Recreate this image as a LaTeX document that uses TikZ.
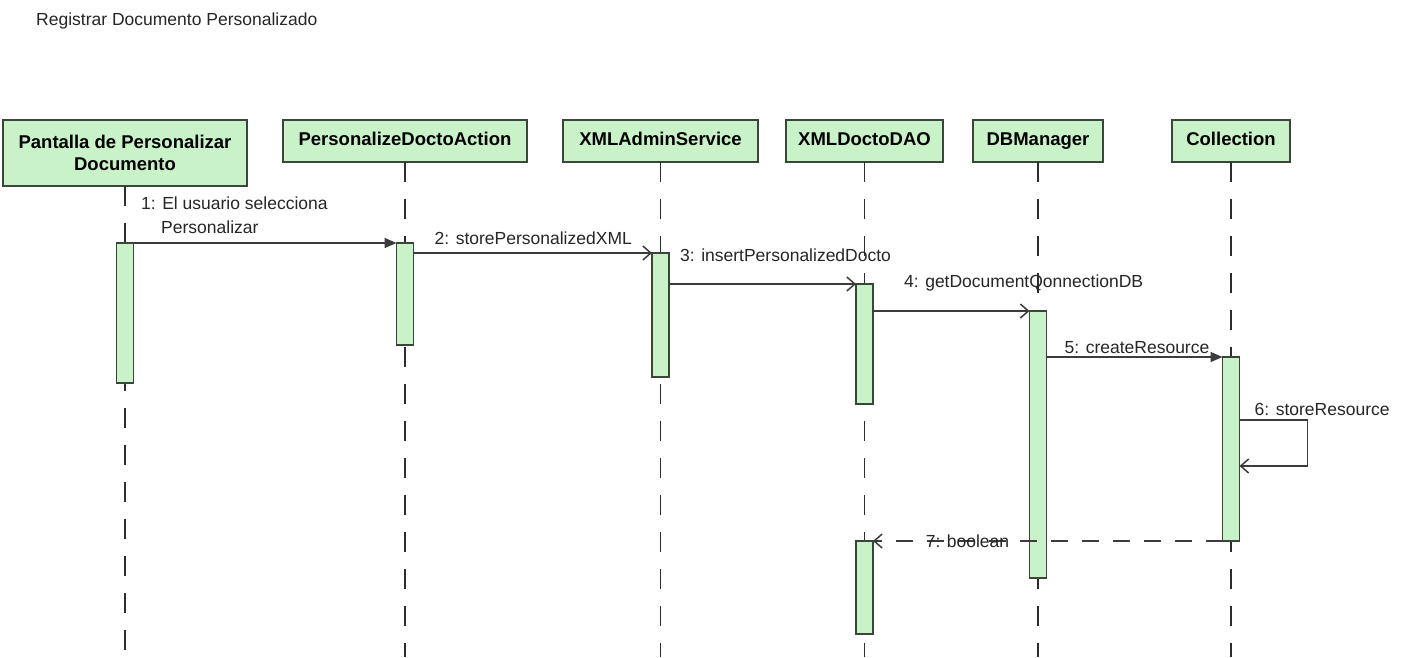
\documentclass[tikz,border=0pt]{standalone}
\usepackage{fontspec}
\setmainfont{Liberation Sans}
\usetikzlibrary{arrows.meta}
\definecolor{objfill}{RGB}{202,242,200}
\definecolor{objline}{RGB}{58,70,58}
\definecolor{msgline}{RGB}{60,60,60}
\definecolor{lifegray}{RGB}{45,45,45}
\begin{document}
\begin{tikzpicture}[x=1pt,y=-1pt,
  objbox/.style={draw=objline,line width=1.8pt,fill=objfill,inner sep=0pt,outer sep=0pt,
    minimum height=42pt,align=center,font=\fontsize{18.5}{22}\selectfont\bfseries},
  oneline/.style={text height=13.5pt,text depth=4pt},
  actbox/.style={draw=objline,line width=1.6pt,fill=objfill,minimum width=17pt,inner sep=0pt,outer sep=0pt},
  lifeline/.style={draw=lifegray,line width=1.8pt,dash pattern=on 20pt off 17pt},
  lbl/.style={font=\fontsize{17.5}{24}\selectfont,text=black!85,inner sep=0pt},
  syncmsg/.style={draw=msgline,line width=1.5pt,-{Triangle[length=12pt,width=10pt]}},
  callmsg/.style={draw=msgline,line width=1.5pt,-{Straight Barb[length=8pt,width=14pt]}},
  retmsg/.style={draw=msgline,line width=1.5pt,dash pattern=on 17pt off 14pt,-{Straight Barb[length=8pt,width=14pt]}}
]
\fill[white] (0,0) rectangle (1403,657);
\useasboundingbox (0,0) rectangle (1403,657);

% title
\node[lbl,anchor=base west] (title) at (36,25) {Registrar Documento Personalizado};

% participants
\node[objbox,minimum width=244pt,minimum height=66pt] (p1) at (125,153) {Pantalla de Personalizar\\Documento};
\node[objbox,oneline,minimum width=244pt] (p2) at (405,141) {PersonalizeDoctoAction};
\node[objbox,oneline,minimum width=195pt] (p3) at (660.5,141) {XMLAdminService};
\node[objbox,oneline,minimum width=157pt] (p4) at (864.5,141) {XMLDoctoDAO};
\node[objbox,oneline,minimum width=130pt] (p5) at (1038,141) {DBManager};
\node[objbox,oneline,minimum width=118pt] (p6) at (1231,141) {Collection};

% lifelines
\foreach \p in {p1,p2,p3,p4,p5,p6}
  \draw[lifeline] (\p.south) -- (\p.south |- 0,657);

% activations
\node[actbox,minimum height=140pt] (a1) at (p1.center |- 0,313) {};
\node[actbox,minimum height=102pt] (a2) at (p2.center |- 0,294) {};
\node[actbox,minimum height=124pt] (a3) at (p3.center |- 0,315) {};
\node[actbox,minimum height=120pt] (a4) at (p4.center |- 0,344) {};
\node[actbox,minimum height=267pt] (a5) at (p5.center |- 0,444.5) {};
\node[actbox,minimum height=184pt] (a6) at (p6.center |- 0,449) {};
\node[actbox,minimum height=93pt] (a7) at (p4.center |- 0,587.5) {};

% messages
\draw[syncmsg] (a1.north east) -- (a2.north west);
\node[lbl,anchor=north west,align=left] (m1) at (141,196.5)
  {1: El usuario selecciona\\\hspace*{20pt}Personalizar};

\draw[callmsg] (a3.north west -| a2.east) -- (a3.north west);
\node[lbl,anchor=base west] (m2) at ([xshift=21pt,yshift=9pt]a3.north west -| a2.east) {2: storePersonalizedXML};

\draw[callmsg] (a4.north west -| a3.east) -- (a4.north west);
\node[lbl,anchor=base west] (m3) at ([xshift=11pt,yshift=23pt]a4.north west -| a3.east) {3: insertPersonalizedDocto};

\draw[callmsg] (a5.north west -| a4.east) -- (a5.north west);
\node[lbl,anchor=base west] (m4) at ([xshift=31pt,yshift=24pt]a5.north west -| a4.east) {4: getDocumentQonnectionDB};

\draw[syncmsg] (a6.north west -| a5.east) -- (a6.north west);
\node[lbl,anchor=base west] (m5) at ([xshift=18pt,yshift=4pt]a6.north west -| a5.east) {5: createResource};

\draw[callmsg] ([yshift=-63pt]a6.north east) -- ++(68,0) -- ++(0,46) -- ([yshift=-109pt]a6.north east);
\node[lbl,anchor=base west] (m6) at ([xshift=15pt,yshift=-58pt]a6.north east) {6: storeResource};

\draw[retmsg] (a6.south west) -- (a7.north east);
\node[lbl,anchor=base] (m7) at (967.5,547) {7: boolean};
\end{tikzpicture}
\end{document}
